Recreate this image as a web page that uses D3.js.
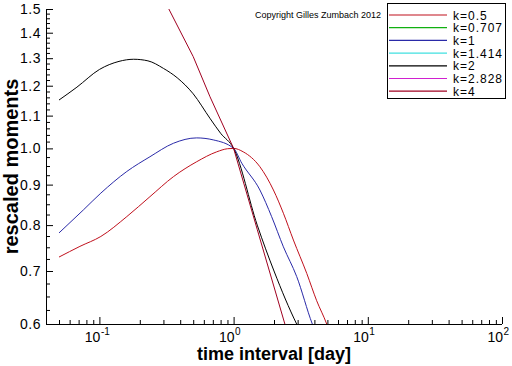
<!DOCTYPE html>
<html><head><meta charset="utf-8">
<script src="https://cdn.jsdelivr.net/npm/d3@7/dist/d3.min.js"></script>
<style>
body{margin:0;background:#fff}
svg{display:block}
text{font-family:"Liberation Sans",Arial,Helvetica,sans-serif;fill:#000}
</style>
</head><body>
<svg id="chart" width="512" height="366"></svg>
<script>
// ---- data ----
const legendLabels = ["k=0.5","k=0.707","k=1","k=1.414","k=2","k=2.828","k=4"];
const legendColors = ["#c0101c","#10b010","#2a2aa8","#40e0e0","#000000","#d020d0","#a00020"];

const k05_x = [0.05,0.0716,0.1025,0.16,0.238,0.356,0.531,0.748,0.9,1.0,1.18,1.57,1.98,2.35,2.79,3.51,4.16,4.94,5.3];
const k05_y = [0.729,0.752,0.774,0.820,0.869,0.921,0.962,0.990,0.999,1.0,0.99,0.948,0.886,0.828,0.766,0.695,0.642,0.6,0.58];

const k1_x = [0.05,0.0759,0.1025,0.16,0.238,0.356,0.531,0.706,1.0,1.15,1.57,1.92,2.35,2.95,3.86,4.1];
const k1_y = [0.782,0.836,0.878,0.935,0.976,1.015,1.031,1.025,1.0,0.958,0.886,0.820,0.751,0.689,0.6,0.585];

const k2_x = [0.05,0.068,0.1,0.14,0.18,0.23,0.3,0.38,0.5,0.67,0.8,1.0,1.5,2.0,2.95,3.1];
const k2_y = [1.151,1.195,1.258,1.288,1.296,1.290,1.262,1.228,1.172,1.09,1.045,1.0,0.80,0.70,0.6,0.59];

const k4_x = [0.31,0.5,0.667,1.0,1.5,2.41,2.6];
const k4_y = [1.53,1.306,1.162,1.0,0.79,0.6,0.58];

const curves = [
  {label:"k=0.5", x:k05_x, y:k05_y, smooth:true},
  {label:"k=1",   x:k1_x,  y:k1_y,  smooth:true},
  {label:"k=2",   x:k2_x,  y:k2_y,  smooth:true},
  {label:"k=4",   x:k4_x,  y:k4_y,  smooth:false}
];

const xMajorTicks = [0.1,1,10,100];
const xTickExponents = ["-1","0","1","2"];
const yMajorTicks = [0.6,0.7,0.8,0.9,1.0,1.1,1.2,1.3,1.4,1.5];

const xLabel = "time interval [day]";
const yLabel = "rescaled moments";
const copyright = "Copyright Gilles Zumbach 2012";

// ---- layout ----
const svg = d3.select("#chart");
const L = 46, R = 502, T = 9, B = 324;
const x = d3.scaleLog().domain([0.04,100]).range([L,R]);
const y = d3.scaleLog().domain([0.6,1.5]).range([B,T]);
const color = d3.scaleOrdinal().domain(legendLabels).range(legendColors);

svg.append("defs").append("clipPath").attr("id","clip")
  .append("rect").attr("x",L).attr("y",T).attr("width",R-L).attr("height",B-T);

// curves
const g = svg.append("g").attr("clip-path","url(#clip)");
curves.forEach(c=>{
  const line = d3.line().x(d=>x(d[0])).y(d=>y(d[1]))
    .curve(c.smooth ? d3.curveMonotoneX : d3.curveLinear);
  g.append("path").datum(c.x.map((v,i)=>[v,c.y[i]]))
    .attr("d",line).attr("fill","none")
    .attr("stroke",color(c.label)).attr("stroke-width",1);
});

// x minor ticks
const xMinor = [];
[0.01,0.1,1,10].forEach(d=>{for(let m=2;m<=9;m++){const v=m*d; if(v>=0.04&&v<=100&&!xMajorTicks.includes(v)) xMinor.push(v);}});
const xAxis = d3.axisBottom(x).tickValues(xMajorTicks).tickSize(-7).tickFormat("");
const xAxisMinor = d3.axisBottom(x).tickValues(xMinor).tickSize(-4).tickFormat("");
const gx = svg.append("g").attr("transform",`translate(0,${B})`).call(xAxis);
const gxm = svg.append("g").attr("transform",`translate(0,${B})`).call(xAxisMinor);
gx.select(".domain").attr("stroke","#000").attr("d",`M${L+0.5},0.5H${R}`);
gxm.select(".domain").remove();
[gx,gxm].forEach(a=>a.selectAll("line").attr("stroke","#000"));

// x tick labels: base "10" and separate superscript exponent
xMajorTicks.forEach((v,i)=>{
  svg.append("text").attr("x",x(v)+1).attr("y",342).attr("text-anchor","end")
    .style("font-size","14px").text("10");
  svg.append("text").attr("x",x(v)+1.5).attr("y",335).attr("text-anchor","start")
    .style("font-size","10px").text(xTickExponents[i]);
});

// y ticks
const yMinor = [];
for(let v=0.625; v<1.0; v+=0.025){ if(Math.abs(v*10-Math.round(v*10))>1e-6) yMinor.push(+v.toFixed(3)); }
for(let v=1.02; v<1.5; v+=0.02){ if(Math.abs(v*10-Math.round(v*10))>1e-6) yMinor.push(+v.toFixed(3)); }
const yAxis = d3.axisLeft(y).tickValues(yMajorTicks).tickSize(-7).tickFormat("");
const yAxisMinor = d3.axisLeft(y).tickValues(yMinor).tickSize(-4).tickFormat("");
const gy = svg.append("g").attr("transform",`translate(${L},0)`).call(yAxis);
const gym = svg.append("g").attr("transform",`translate(${L},0)`).call(yAxisMinor);
gy.select(".domain").attr("stroke","#000").attr("d",`M0.5,${T}V${B+0.5}`);
gym.select(".domain").remove();
[gy,gym].forEach(a=>a.selectAll("line").attr("stroke","#000"));

yMajorTicks.forEach(v=>{
  svg.append("text").attr("x",41).attr("y",y(v)+5).attr("text-anchor","end")
    .style("font-size","14px").style("letter-spacing","0.5px").text(d3.format(".1f")(v));
});

// axis titles
svg.append("text").attr("x",(L+R)/2).attr("y",360).attr("text-anchor","middle")
  .style("font-size","18px").style("font-weight","bold").text(xLabel);
svg.append("text").attr("transform",`translate(18,${(T+B)/2}) rotate(-90)`).attr("text-anchor","middle")
  .style("font-size","20px").style("font-weight","bold").text(yLabel);

// copyright
svg.append("text").attr("x",255).attr("y",18).style("font-size","9px").text(copyright);

// legend
const lg = svg.append("g");
lg.append("rect").attr("x",387.5).attr("y",3.5).attr("width",118).attr("height",95)
  .attr("fill","#fff").attr("stroke","#000").attr("stroke-width",1);
legendLabels.forEach((lab,i)=>{
  const ly = 15 + i*12.7;
  lg.append("line").attr("x1",389).attr("x2",447).attr("y1",ly).attr("y2",ly)
    .attr("stroke",color(lab)).attr("stroke-width",1.2);
  lg.append("text").attr("x",453).attr("y",ly+4.5).style("font-size","12px")
    .style("letter-spacing","1px").text(lab);
});
</script>
</body></html>
